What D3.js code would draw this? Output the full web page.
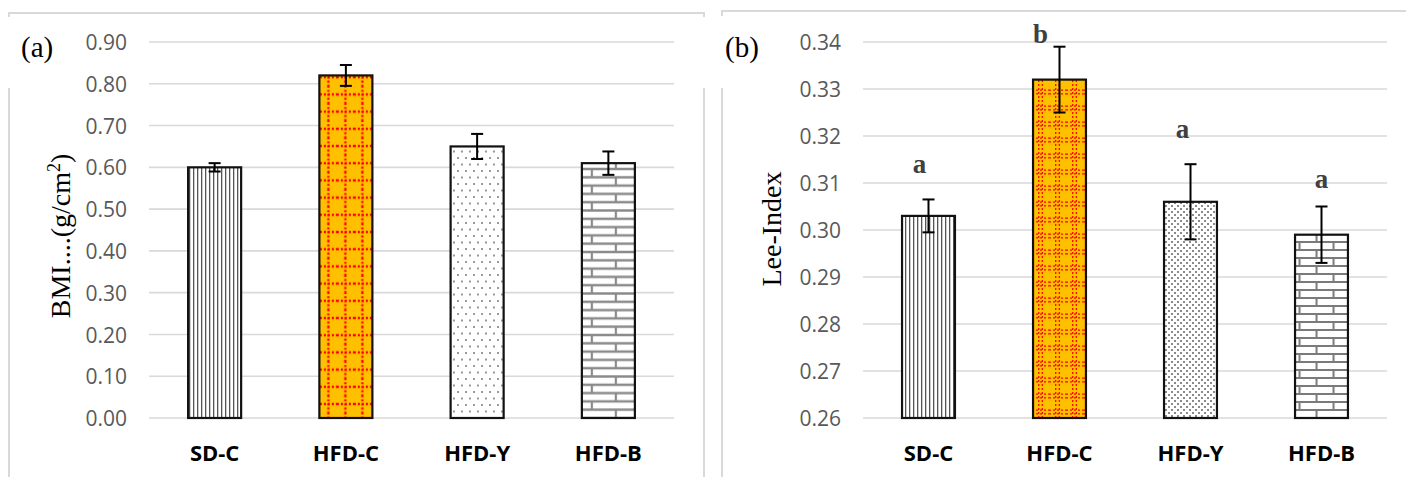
<!DOCTYPE html>
<html>
<head>
<meta charset="utf-8">
<script src="https://cdn.jsdelivr.net/npm/d3@7"></script>
<style>
  html, body { margin: 0; padding: 0; background: #fff; }
  svg { display: block; }
</style>
</head>
<body>
<script>
// ---------------- DATA ----------------
const categories = ["SD-C", "HFD-C", "HFD-Y", "HFD-B"];
const bmiValues  = [0.60, 0.82, 0.65, 0.61];
const bmiErrors  = [0.010, 0.025, 0.030, 0.028];
const bmiTicks   = [0.00, 0.10, 0.20, 0.30, 0.40, 0.50, 0.60, 0.70, 0.80, 0.90];
const leeValues  = [0.303, 0.332, 0.306, 0.299];
const leeErrors  = [0.0035, 0.007, 0.008, 0.006];
const leeLetters = ["a", "b", "a", "a"];
const leeTicks   = [0.26, 0.27, 0.28, 0.29, 0.30, 0.31, 0.32, 0.33, 0.34];

// ---------------- DRAWING ----------------
const W = 1406, H = 477;
const svg = d3.select("body").append("svg").attr("width", W).attr("height", H);
const defs = svg.append("defs");
const border = "#d9d9d9";

function line(x1, y1, x2, y2, col, w) {
  svg.append("line").attr("x1", x1).attr("y1", y1).attr("x2", x2).attr("y2", y2)
    .attr("stroke", col).attr("stroke-width", w);
}
line(9, 13, 704, 13, border, 2);
line(9, 12, 9, 17, border, 2);
line(704, 12, 704, 17, border, 2);
line(9, 88, 9, H, border, 2);
line(704, 88, 704, H, border, 2);
line(722, 11, W, 11, border, 2);
line(722, 10, 722, 16, border, 2);
line(722, 88, 722, H, border, 2);

function vlinesPattern(id) {
  const p = defs.append("pattern").attr("id", id).attr("patternUnits", "userSpaceOnUse")
    .attr("width", 4).attr("height", 4);
  p.append("rect").attr("width", 4).attr("height", 4).attr("fill", "#fff");
  p.append("rect").attr("x", 1).attr("width", 1.3).attr("height", 4).attr("fill", "#555");
}
function gridPattern(id, sx, sy, ox, oy, dbl) {
  const p = defs.append("pattern").attr("id", id).attr("patternUnits", "userSpaceOnUse")
    .attr("width", sx).attr("height", sy).attr("x", ox).attr("y", oy);
  p.append("rect").attr("width", sx).attr("height", sy).attr("fill", "#FFC000");
  const offs = dbl ? [sx / 2 - 1.8, sx / 2 + 1.8] : [sx / 2];
  const offsY = dbl ? [sy / 2 - 1.8, sy / 2 + 1.8] : [sy / 2];
  const sw = dbl ? 1.3 : 2.2;
  offs.forEach(o => p.append("line").attr("x1", o).attr("x2", o).attr("y1", 0).attr("y2", sy)
    .attr("stroke", "#FF0000").attr("stroke-width", sw).attr("stroke-dasharray", "2,2"));
  offsY.forEach(o => p.append("line").attr("y1", o).attr("y2", o).attr("x1", 0).attr("x2", sx)
    .attr("stroke", "#FF0000").attr("stroke-width", sw).attr("stroke-dasharray", "2,2"));
}
function dotsPattern(id, sx, sy, sz, col) {
  const p = defs.append("pattern").attr("id", id).attr("patternUnits", "userSpaceOnUse")
    .attr("width", sx).attr("height", sy);
  p.append("rect").attr("width", sx).attr("height", sy).attr("fill", "#fff");
  p.append("rect").attr("x", 1).attr("y", 1).attr("width", sz).attr("height", sz).attr("fill", col);
  p.append("rect").attr("x", 1 + sx / 2).attr("y", 1 + sy / 2).attr("width", sz).attr("height", sz).attr("fill", col);
}
function brickPattern(id, bw, bh, sw, col, ox, oy) {
  const p = defs.append("pattern").attr("id", id).attr("patternUnits", "userSpaceOnUse")
    .attr("width", bw).attr("height", bh * 2).attr("x", ox).attr("y", oy);
  p.append("rect").attr("width", bw).attr("height", bh * 2).attr("fill", "#fff");
  const g = p.append("g").attr("stroke", col).attr("stroke-width", sw);
  g.append("line").attr("x1", 0).attr("x2", bw).attr("y1", 0).attr("y2", 0);
  g.append("line").attr("x1", 0).attr("x2", bw).attr("y1", bh).attr("y2", bh);
  g.append("line").attr("x1", 0).attr("x2", bw).attr("y1", bh * 2).attr("y2", bh * 2);
  g.append("line").attr("x1", bw / 4).attr("x2", bw / 4).attr("y1", 0).attr("y2", bh);
  g.append("line").attr("x1", bw * 3 / 4).attr("x2", bw * 3 / 4).attr("y1", bh).attr("y2", bh * 2);
}

function panel(cfg) {
  const x = d3.scaleBand().domain(categories).range(cfg.xr).paddingInner(0.596).paddingOuter(0.298);
  const y = d3.scaleLinear().domain(cfg.domain).range([418, 42]);
  const g = svg.append("g");

  g.append("g").selectAll("line").data(cfg.ticks).join("line")
    .attr("x1", cfg.xr[0]).attr("x2", cfg.xr[1])
    .attr("y1", d => y(d)).attr("y2", d => y(d))
    .attr("stroke", "#d9d9d9").attr("stroke-width", 1.6);

  const ax = g.append("g").attr("transform", `translate(${cfg.xr[0] - 22},0)`)
    .call(d3.axisLeft(y).tickValues(cfg.ticks).tickSize(0).tickPadding(0).tickFormat(cfg.fmt));
  ax.select(".domain").remove();
  ax.selectAll("text").attr("font-family", "'Open Sans', 'Noto Sans', sans-serif")
    .attr("font-size", 21).attr("fill", "#595959").attr("dy", "0.36em");

  const hx = x("HFD-C");
  vlinesPattern(cfg.id + "v");
  gridPattern(cfg.id + "g", cfg.gsx, cfg.gsy, hx + cfg.gox, 418 - cfg.goy, cfg.dbl);
  dotsPattern(cfg.id + "d", cfg.dsx, cfg.dsy, cfg.dsz, cfg.dcol);
  brickPattern(cfg.id + "b", cfg.bw, cfg.bh, cfg.bsw, cfg.bcol, x("HFD-B") + cfg.box, 418);
  const fills = [cfg.id + "v", cfg.id + "g", cfg.id + "d", cfg.id + "b"];

  const data = categories.map((c, i) => ({ c, v: cfg.values[i], e: cfg.errors[i], f: fills[i] }));
  const y0 = y(cfg.domain[0]);
  g.append("g").selectAll("rect").data(data).join("rect")
    .attr("x", d => x(d.c)).attr("width", x.bandwidth())
    .attr("y", d => y(d.v)).attr("height", d => y0 - y(d.v))
    .attr("fill", d => `url(#${d.f})`)
    .attr("stroke", "#111").attr("stroke-width", 2.2);

  const eb = g.append("g").attr("stroke", "#000").attr("stroke-width", 2);
  const cx = d => x(d.c) + x.bandwidth() / 2;
  eb.selectAll(".v").data(data).join("line").attr("class", "v")
    .attr("x1", cx).attr("x2", cx).attr("y1", d => y(d.v + d.e)).attr("y2", d => y(d.v - d.e));
  eb.selectAll(".t").data(data).join("line").attr("class", "t")
    .attr("x1", d => cx(d) - 6).attr("x2", d => cx(d) + 6).attr("y1", d => y(d.v + d.e)).attr("y2", d => y(d.v + d.e));
  eb.selectAll(".b").data(data).join("line").attr("class", "b")
    .attr("x1", d => cx(d) - 6).attr("x2", d => cx(d) + 6).attr("y1", d => y(d.v - d.e)).attr("y2", d => y(d.v - d.e));

  g.append("g").selectAll("text").data(categories).join("text")
    .attr("x", d => x(d) + x.bandwidth() / 2).attr("y", 461)
    .attr("text-anchor", "middle")
    .attr("font-family", "'Open Sans', 'Noto Sans', sans-serif").attr("font-weight", 700)
    .attr("font-size", 22).attr("fill", "#000").text(d => d);

  return { x, y, g };
}

panel({
  id: "pa", xr: [149, 674], domain: [0, 0.9], ticks: bmiTicks, values: bmiValues, errors: bmiErrors,
  fmt: d3.format(".2f"),
  gsx: 17, gsy: 17.2, gox: 0.5, goy: 22.6, dbl: false,
  dsx: 8, dsy: 13, dsz: 2, dcol: "#999",
  bw: 48, bh: 8.3, bsw: 2.2, bcol: "#8a8a8a", box: -2
});
const pb = panel({
  id: "pb", xr: [863, 1387], domain: [0.26, 0.34], ticks: leeTicks, values: leeValues, errors: leeErrors,
  fmt: d3.format(".2f"),
  gsx: 17, gsy: 16, gox: -1, goy: 14, dbl: true,
  dsx: 6, dsy: 6, dsz: 2, dcol: "#8a8a8a",
  bw: 34, bh: 8, bsw: 2, bcol: "#7a7a7a", box: -4
});

const letterLayout = [{ dx: -9, y: 0.3122 }, { dx: -19, y: 0.3398 }, { dx: -8, y: 0.3196 }, { dx: 0, y: 0.3089 }];
pb.g.append("g").selectAll("text").data(leeLetters).join("text")
  .attr("x", (d, i) => pb.x(categories[i]) + pb.x.bandwidth() / 2 + letterLayout[i].dx)
  .attr("y", (d, i) => pb.y(letterLayout[i].y))
  .attr("text-anchor", "middle")
  .attr("font-family", "'Liberation Serif', 'Times New Roman', serif").attr("font-weight", 700)
  .attr("font-size", 27).attr("fill", "#404040").text(d => d);

const serif = "'Liberation Serif', 'Times New Roman', serif";
const t1 = svg.append("text").attr("transform", "translate(70,236) rotate(-90)")
  .attr("text-anchor", "middle").attr("font-family", serif).attr("font-size", 28).attr("fill", "#000");
t1.append("tspan").text("BMI....(g/cm");
t1.append("tspan").attr("font-size", 18).attr("dy", -10).text("2");
t1.append("tspan").attr("dy", 10).text(")");
svg.append("text").attr("transform", "translate(781,229) rotate(-90)")
  .attr("text-anchor", "middle").attr("font-family", serif).attr("font-size", 28).attr("fill", "#000")
  .text("Lee-Index");

svg.append("text").attr("x", 21).attr("y", 57).attr("font-family", serif).attr("font-size", 29).text("(a)");
svg.append("text").attr("x", 725).attr("y", 57).attr("font-family", serif).attr("font-size", 29).text("(b)");
</script>
</body>
</html>
